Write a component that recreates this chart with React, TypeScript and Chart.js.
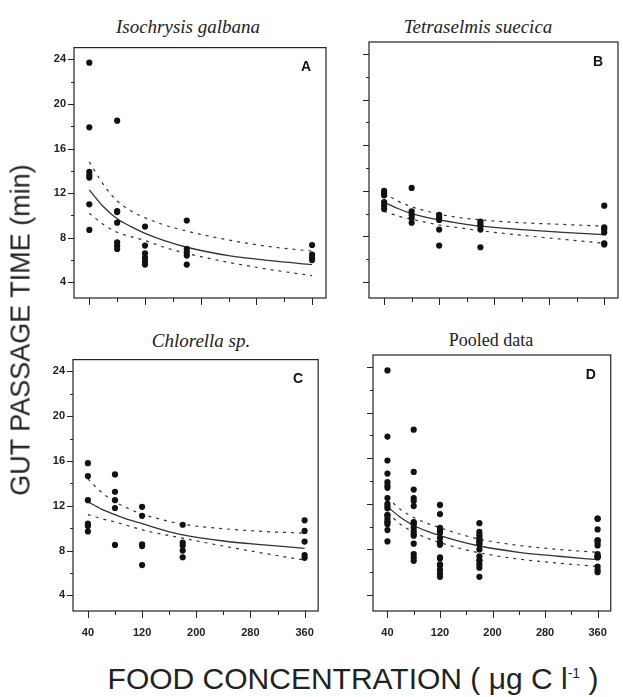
import React, { useEffect, useRef } from "react";
import { Chart, registerables } from "chart.js";
Chart.register(...registerables);

// ---------- data ----------
const isoConc = [40, 40, 40, 40, 40, 40, 40, 80, 80, 80, 80, 80, 80, 80, 120, 120, 120, 120, 120, 120, 180, 180, 180, 180, 180, 360, 360, 360, 360];
const isoTime = [23.7, 17.9, 13.9, 13.6, 13.4, 11.0, 8.7, 18.5, 10.4, 10.3, 9.35, 7.6, 7.3, 7.0, 9.0, 7.3, 6.6, 6.2, 5.9, 5.6, 9.55, 7.0, 6.7, 6.4, 5.6, 7.35, 6.5, 6.2, 6.0];

const tetConc = [40, 40, 40, 40, 40, 40, 80, 80, 80, 80, 80, 120, 120, 120, 120, 120, 180, 180, 180, 180, 180, 360, 360, 360, 360, 360, 360];
const tetTime = [12.0, 11.8, 11.6, 11.0, 10.7, 10.4, 12.25, 10.2, 9.9, 9.6, 9.2, 9.9, 9.65, 9.45, 8.6, 7.2, 9.3, 9.1, 8.9, 8.6, 7.05, 10.7, 8.8, 8.6, 8.35, 7.4, 7.3];

const chlConc = [40, 40, 40, 40, 40, 40, 80, 80, 80, 80, 80, 120, 120, 120, 120, 120, 180, 180, 180, 180, 180, 360, 360, 360, 360, 360];
const chlTime = [15.8, 14.65, 12.5, 10.4, 10.2, 9.7, 14.8, 13.25, 12.5, 11.8, 8.5, 11.9, 11.1, 8.55, 8.4, 6.7, 10.3, 8.7, 8.45, 8.0, 7.4, 10.7, 9.75, 8.8, 7.6, 7.35];

const pooledConc = [...isoConc, ...tetConc, ...chlConc];
const pooledTime = [...isoTime, ...tetTime, ...chlTime];

const fitConc = [40, 60, 80, 100, 120, 150, 180, 240, 300, 360];
const isoFit = [12.3, 10.8, 9.7, 9.0, 8.4, 7.7, 7.15, 6.4, 5.95, 5.6];
const isoUpper = [14.8, 12.8, 11.3, 10.4, 9.8, 9.1, 8.6, 7.8, 7.2, 6.8];
const isoLower = [10.2, 9.2, 8.5, 8.1, 7.75, 7.1, 6.6, 5.8, 5.15, 4.6];

const tetFit = [11.0, 10.45, 10.0, 9.7, 9.45, 9.15, 8.9, 8.6, 8.35, 8.15];
const tetUpper = [11.8, 11.1, 10.6, 10.25, 9.95, 9.65, 9.45, 9.2, 9.05, 8.9];
const tetLower = [10.2, 9.8, 9.5, 9.25, 9.0, 8.75, 8.5, 8.1, 7.75, 7.4];

const chlFit = [12.35, 11.7, 11.2, 10.75, 10.4, 9.85, 9.4, 8.85, 8.5, 8.2];
const chlUpper = [14.4, 13.2, 12.35, 11.75, 11.25, 10.75, 10.35, 9.95, 9.7, 9.55];
const chlLower = [11.2, 10.85, 10.55, 10.2, 9.85, 9.45, 9.1, 8.4, 7.75, 7.15];

const poolFit = [11.75, 10.8, 10.1, 9.6, 9.2, 8.7, 8.3, 7.75, 7.4, 7.1];
const poolUpper = [12.55, 11.5, 10.8, 10.3, 9.9, 9.35, 8.9, 8.35, 8.0, 7.75];
const poolLower = [11.2, 10.2, 9.5, 9.0, 8.6, 8.1, 7.7, 7.15, 6.8, 6.5];

const yTickValues = [4, 6, 8, 10, 12, 14, 16, 18, 20, 22, 24];
const yTickLabels = [4, 8, 12, 16, 20, 24];
const xTickValues = [40, 80, 120, 160, 200, 240, 280, 320, 360];
const xTickLabels = [40, 120, 200, 280, 360];

// ---------- layout ----------
const YW = 40;
const XH = 40;
const TP = 10;
const RP = 1;
const SANS = '"Liberation Sans", Arial, sans-serif';
const SERIF = '"Liberation Serif", "Times New Roman", serif';

const framePlugin = {
  id: "frame",
  afterDraw(chart: any, _args: any, opts: any) {
    const { ctx, chartArea, scales } = chart;
    const { left, right, top, bottom } = chartArea;
    const x = scales.x;
    const y = scales.y;
    ctx.save();
    ctx.strokeStyle = "#222";
    ctx.lineWidth = 1.2;
    ctx.strokeRect(left, top, right - left, bottom - top);
    ctx.lineWidth = 1;
    ctx.beginPath();
    for (const v of yTickValues) {
      const py = Math.round(y.getPixelForValue(v)) + 0.5;
      const len = yTickLabels.includes(v) ? 6 : 3;
      ctx.moveTo(left - len, py);
      ctx.lineTo(left, py);
    }
    for (const v of xTickValues) {
      const px = Math.round(x.getPixelForValue(v)) + 0.5;
      const len = xTickLabels.includes(v) ? 7 : 4;
      ctx.moveTo(px, bottom);
      ctx.lineTo(px, bottom + len);
    }
    ctx.stroke();
    ctx.fillStyle = "#111";
    ctx.font = "bold 14px " + SANS;
    ctx.textAlign = "right";
    ctx.textBaseline = "top";
    ctx.fillText(opts.letter, right - 15, top + 13);
    ctx.restore();
  },
};

type PanelProps = {
  conc: number[];
  time: number[];
  fit: number[];
  upper: number[];
  lower: number[];
  letter: string;
  yLabels: boolean;
  xLabels: boolean;
  left: number;
  top: number;
  w: number;
  h: number;
};

function Panel(p: PanelProps) {
  const ref = useRef<HTMLCanvasElement | null>(null);
  const cw = YW + p.w + RP;
  const ch = TP + p.h + XH;
  useEffect(() => {
    if (!ref.current) return;
    const pts = p.conc.map((c, i) => ({ x: c, y: p.time[i] }));
    const line = (vals: number[]) => fitConc.map((c, i) => ({ x: c, y: vals[i] }));
    const chart = new Chart(ref.current, {
      type: "scatter",
      data: {
        datasets: [
          {
            data: pts,
            pointRadius: 3.1,
            pointBackgroundColor: "#111",
            pointBorderWidth: 0,
            showLine: false,
          } as any,
          {
            data: line(p.fit),
            showLine: true,
            pointRadius: 0,
            borderColor: "#333",
            borderWidth: 1.3,
            cubicInterpolationMode: "monotone",
            fill: false,
          } as any,
          {
            data: line(p.upper),
            showLine: true,
            pointRadius: 0,
            borderColor: "#333",
            borderWidth: 1.2,
            borderDash: [3, 5],
            cubicInterpolationMode: "monotone",
            fill: false,
          } as any,
          {
            data: line(p.lower),
            showLine: true,
            pointRadius: 0,
            borderColor: "#333",
            borderWidth: 1.2,
            borderDash: [3, 5],
            cubicInterpolationMode: "monotone",
            fill: false,
          } as any,
        ],
      },
      options: {
        responsive: false,
        animation: false,
        devicePixelRatio: 1,
        layout: { padding: { top: TP, right: RP, left: 0, bottom: 0 } },
        plugins: {
          legend: { display: false },
          tooltip: { enabled: false },
          frame: { letter: p.letter },
        } as any,
        scales: {
          x: {
            type: "linear",
            min: 18,
            max: 380,
            grid: { display: false, drawTicks: false },
            border: { display: false },
            afterBuildTicks: (s: any) => {
              s.ticks = xTickValues.map((v) => ({ value: v }));
            },
            afterFit: (s: any) => {
              s.height = XH;
            },
            ticks: {
              display: p.xLabels,
              padding: 15,
              maxRotation: 0,
              autoSkip: false,
              color: "#222",
              font: { family: SANS, size: 11, weight: "bold" },
              callback: (v: any) => (xTickLabels.includes(Number(v)) ? String(v) : ""),
            },
          },
          y: {
            type: "linear",
            min: 2.6,
            max: 25.05,
            grid: { display: false, drawTicks: false },
            border: { display: false },
            afterBuildTicks: (s: any) => {
              s.ticks = yTickValues.map((v) => ({ value: v }));
            },
            afterFit: (s: any) => {
              s.width = YW;
            },
            ticks: {
              display: p.yLabels,
              padding: 8,
              autoSkip: false,
              color: "#222",
              font: { family: SANS, size: 11, weight: "bold" },
              callback: (v: any) => (yTickLabels.includes(Number(v)) ? String(v) : ""),
            },
          },
        },
      } as any,
      plugins: [framePlugin as any],
    });
    return () => chart.destroy();
  }, []);
  return (
    <canvas
      ref={ref}
      width={cw}
      height={ch}
      style={{ position: "absolute", left: p.left - YW, top: p.top - TP, width: cw, height: ch }}
    />
  );
}

const titleStyle = (x: number, y: number, italic: boolean, size: number): React.CSSProperties => ({
  position: "absolute",
  left: x,
  top: y,
  transform: "translate(-50%, -50%)",
  fontFamily: SERIF,
  fontStyle: italic ? "italic" : "normal",
  fontSize: size,
  color: "#222",
  whiteSpace: "nowrap",
  lineHeight: 1,
});

export default function App() {
  return (
    <div style={{ position: "absolute", left: 0, top: 0, width: 623, height: 697, background: "#fff", overflow: "hidden" }}>
      <div style={titleStyle(188, 26, true, 19)}>Isochrysis galbana</div>
      <div style={titleStyle(478, 26, true, 19)}>Tetraselmis suecica</div>
      <div style={titleStyle(201, 340, true, 19)}>Chlorella sp.</div>
      <div style={titleStyle(491, 340, false, 18)}>Pooled data</div>

      <Panel conc={isoConc} time={isoTime} fit={isoFit} upper={isoUpper} lower={isoLower} letter="A" yLabels={true} xLabels={false} left={74} top={43} w={255} h={255} />
      <Panel conc={tetConc} time={tetTime} fit={tetFit} upper={tetUpper} lower={tetLower} letter="B" yLabels={false} xLabels={false} left={369} top={42} w={252} h={256} />
      <Panel conc={chlConc} time={chlTime} fit={chlFit} upper={chlUpper} lower={chlLower} letter="C" yLabels={true} xLabels={true} left={73} top={355} w={255} h={256} />
      <Panel conc={pooledConc} time={pooledTime} fit={poolFit} upper={poolUpper} lower={poolLower} letter="D" yLabels={false} xLabels={true} left={373} top={355} w={248} h={256} />

      <div
        style={{
          position: "absolute",
          left: 21,
          top: 330,
          transform: "translate(-50%, -50%) rotate(-90deg)",
          fontFamily: SANS,
          fontSize: 27,
          color: "#222",
          whiteSpace: "nowrap",
          lineHeight: 1,
        }}
      >
        GUT PASSAGE TIME (min)
      </div>
      <div
        style={{
          position: "absolute",
          left: 353,
          top: 679,
          transform: "translate(-50%, -50%)",
          fontFamily: SANS,
          fontSize: 30,
          color: "#222",
          whiteSpace: "nowrap",
          lineHeight: 1,
        }}
      >
        FOOD CONCENTRATION ( μg C l<sup style={{ fontSize: 14, verticalAlign: "top", position: "relative", top: 2 }}>-1</sup> )
      </div>
    </div>
  );
}
